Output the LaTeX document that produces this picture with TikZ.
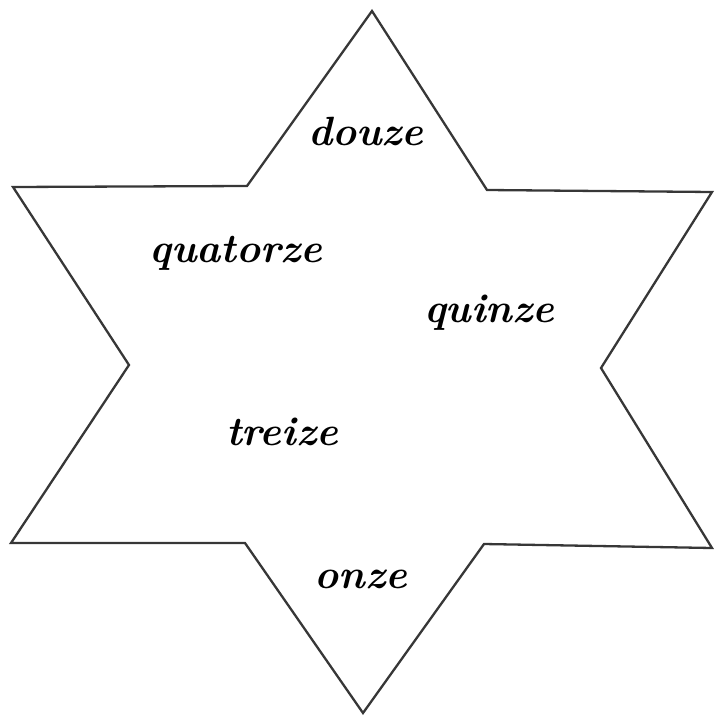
\documentclass[tikz,border=0pt]{standalone}
\usepackage{tikz}
\usetikzlibrary{positioning}
\definecolor{starline}{RGB}{55,55,55}

\begin{document}
\begin{tikzpicture}[x=1bp,y=-1bp,
    starbox/.style={draw=starline,line width=2.3bp,line join=miter},
    wordlabel/.style={font=\bfseries\itshape\fontsize{41}{48}\selectfont,inner sep=0pt}]
  \useasboundingbox (0,0) rectangle (715,721);
  % the star
  \coordinate (top) at (372,11);
  \coordinate (ur) at (487,190);
  \coordinate (rtip) at (712,192);
  \coordinate (rin) at (601,368);
  \coordinate (lrtip) at (712,548);
  \coordinate (lr) at (484,544);
  \coordinate (bot) at (363,713);
  \coordinate (ll) at (245,543);
  \coordinate (lltip) at (11,543);
  \coordinate (lin) at (129,365);
  \coordinate (ltip) at (13,187);
  \coordinate (ul) at (247,186);
  \draw[starbox] (top) -- (ur) -- (rtip) -- (rin) -- (lrtip) -- (lr) -- (bot)
    -- (ll) -- (lltip) -- (lin) -- (ltip) -- (ul) -- cycle;
  % the words
  \node[wordlabel,anchor=base] (douze) at (366,145) {douze};
  \node[wordlabel,anchor=base] (quatorze) at (236,262) {quatorze};
  \node[wordlabel,anchor=base] (quinze) at (489,322) {quinze};
  \node[wordlabel,anchor=base] (treize) at (282,445) {treize};
  \node[wordlabel,anchor=base] (onze) at (361,588) {onze};
\end{tikzpicture}
\end{document}
